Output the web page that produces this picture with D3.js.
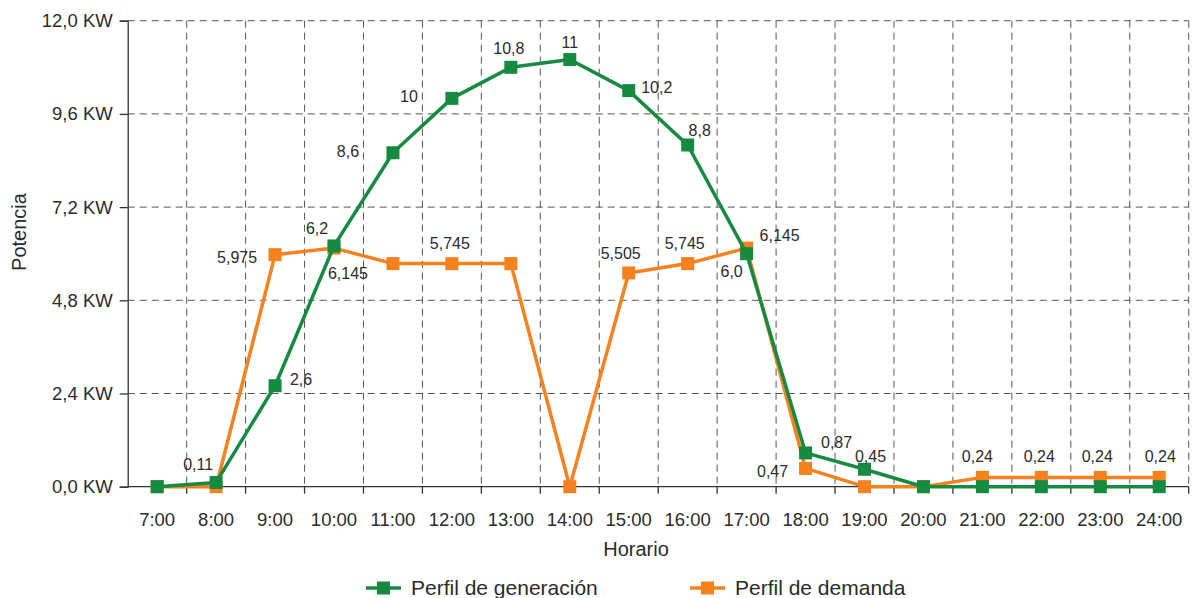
<!DOCTYPE html>
<html>
<head>
<meta charset="utf-8">
<script src="https://cdn.jsdelivr.net/npm/d3@7/dist/d3.min.js"></script>
<style>
  html, body { margin: 0; padding: 0; background: #fff; }
  svg { display: block; font-family: "Liberation Sans", Arial, Helvetica, sans-serif; }
</style>
</head>
<body>
<svg id="chart" width="1192" height="598"></svg>
<script>
// Hourly categories
const hours = ["7:00","8:00","9:00","10:00","11:00","12:00","13:00","14:00","15:00",
               "16:00","17:00","18:00","19:00","20:00","21:00","22:00","23:00","24:00"];

// Generation profile (kW)
const generacion = [0, 0.11, 2.6, 6.2, 8.6, 10, 10.8, 11, 10.2, 8.8, 6.0, 0.87, 0.45, 0, 0, 0, 0, 0];
const generacionLabels = [null, "0,11", "2,6", "6,2", "8,6", "10", "10,8", "11", "10,2", "8,8", "6,0", "0,87", "0,45",
                          null, null, null, null, null];

// Demand profile (kW)
const demanda = [0, 0, 5.975, 6.145, 5.745, 5.745, 5.745, 0, 5.505, 5.745, 6.145, 0.47, 0, 0, 0.24, 0.24, 0.24, 0.24];
const demandaLabels = [null, null, "5,975", "6,145", null, "5,745", null, null, "5,505", "5,745", "6,145", "0,47",
                       null, null, "0,24", "0,24", "0,24", "0,24"];

// Y axis ticks
const yTicks = [0, 2.4, 4.8, 7.2, 9.6, 12.0];
const yTickLabels = ["0,0 KW", "2,4 KW", "4,8 KW", "7,2 KW", "9,6 KW", "12,0 KW"];

const seriesNames = ["Perfil de generación", "Perfil de demanda"];

// Label nudges (text centre relative to the point), one per point
const genLabelOffset = [null, [-18,-18], [26,-6], [-17,-18], [-45,-1], [-43,-2], [-2,-19], [0,-17], [28,-3],
                        [12,-15], [-15,18], [31,-11], [6,-13], null, null, null, null, null];
const demLabelOffset = [null, null, [-38,3], [14,25], null, [-2,-20], null, null, [-8,-20], [-3,-20],
                        [33,-13], [-33,3], null, null, [-5,-21], [-2,-21], [-3,-21], [1,-21]];

const GREEN = "#168a41";
const ORANGE = "#f5821f";
const TEXT = "#2b2b2b";
const GRID = "#555";

const svg = d3.select("#chart");
const margin = { left: 127.7, right: 1192 - 1188.7, top: 20.7, bottom: 598 - 486.7 };
const plotW = 1192 - margin.left - margin.right;
const plotH = 598 - margin.top - margin.bottom;

const x = d3.scaleBand().domain(hours).range([margin.left, margin.left + plotW]).padding(0);
const y = d3.scaleLinear().domain([0, 12]).range([margin.top + plotH, margin.top]);
const cx = h => x(h) + x.bandwidth() / 2;

// Grid
const grid = svg.append("g");
grid.selectAll("line.hg").data(yTicks.filter(t => t > 0)).join("line")
  .attr("x1", margin.left).attr("x2", margin.left + plotW)
  .attr("y1", d => y(d)).attr("y2", d => y(d))
  .attr("stroke", GRID).attr("stroke-width", 1).attr("stroke-dasharray", "7,5");
const bounds = hours.map(h => x(h) + x.bandwidth());
grid.selectAll("line.vg").data(bounds).join("line")
  .attr("x1", d => d).attr("x2", d => d)
  .attr("y1", margin.top).attr("y2", margin.top + plotH)
  .attr("stroke", GRID).attr("stroke-width", 1).attr("stroke-dasharray", "7,5");

// Y axis
const yAxis = svg.append("g").attr("transform", `translate(${margin.left},0)`)
  .call(d3.axisLeft(y).tickValues(yTicks).tickSize(8).tickPadding(7)
        .tickFormat((d, i) => yTickLabels[i]));
yAxis.select(".domain").attr("stroke", "#333").attr("stroke-width", 1.3);
yAxis.selectAll(".tick line").attr("stroke", "#333").attr("stroke-width", 1.3);
yAxis.selectAll(".tick text").attr("fill", TEXT).style("font-size", "18.5px")
  .attr("font-family", "Liberation Sans, Arial, sans-serif");

// X axis: ticks at band boundaries, labels at band centres
const xAxisG = svg.append("g").attr("transform", `translate(0,${margin.top + plotH})`);
xAxisG.append("line").attr("x1", margin.left).attr("x2", margin.left + plotW)
  .attr("stroke", "#333").attr("stroke-width", 1.3);
xAxisG.selectAll("line.tk").data(bounds).join("line")
  .attr("x1", d => d).attr("x2", d => d).attr("y1", 0).attr("y2", 7)
  .attr("stroke", "#333").attr("stroke-width", 1.3);
xAxisG.selectAll("text").data(hours).join("text")
  .attr("x", d => cx(d)).attr("y", 39)
  .attr("text-anchor", "middle").attr("fill", TEXT).style("font-size", "18.5px")
  .text(d => d);

// Axis titles
svg.append("text").attr("x", 636).attr("y", 556).attr("text-anchor", "middle")
  .attr("fill", TEXT).style("font-size", "20px").text("Horario");
svg.append("text").attr("transform", "translate(26,232) rotate(-90)").attr("text-anchor", "middle")
  .attr("fill", TEXT).style("font-size", "20px").text("Potencia");

// Series
const line = d3.line().x((d, i) => cx(hours[i])).y(d => y(d));
const MS = 13;

function drawSeries(values, color) {
  const g = svg.append("g");
  g.append("path").datum(values).attr("d", line)
    .attr("fill", "none").attr("stroke", color).attr("stroke-width", 3.5).attr("stroke-linejoin", "round");
  g.selectAll("rect").data(values).join("rect")
    .attr("x", (d, i) => cx(hours[i]) - MS / 2).attr("y", d => y(d) - MS / 2)
    .attr("width", MS).attr("height", MS).attr("fill", color);
}
drawSeries(demanda, ORANGE);
drawSeries(generacion, GREEN);

function drawLabels(values, labels, offsets) {
  svg.append("g").selectAll("text")
    .data(values.map((v, i) => ({ v, i, t: labels[i], o: offsets[i] })).filter(d => d.t))
    .join("text")
    .attr("x", d => cx(hours[d.i]) + d.o[0])
    .attr("y", d => y(d.v) + d.o[1])
    .attr("dy", "0.35em")
    .attr("text-anchor", "middle").attr("fill", TEXT).style("font-size", "16px")
    .text(d => d.t);
}
drawLabels(generacion, generacionLabels, genLabelOffset);
drawLabels(demanda, demandaLabels, demLabelOffset);

// Legend
const legend = [
  { name: seriesNames[0], color: GREEN, x0: 366 },
  { name: seriesNames[1], color: ORANGE, x0: 690 }
];
const lg = svg.append("g");
legend.forEach(l => {
  lg.append("line").attr("x1", l.x0).attr("x2", l.x0 + 35).attr("y1", 588).attr("y2", 588)
    .attr("stroke", l.color).attr("stroke-width", 3.5);
  lg.append("rect").attr("x", l.x0 + 17.5 - MS / 2).attr("y", 588 - MS / 2)
    .attr("width", MS).attr("height", MS).attr("fill", l.color);
  lg.append("text").attr("x", l.x0 + 45).attr("y", 595).attr("fill", TEXT)
    .style("font-size", "21px").text(l.name);
});
</script>
</body>
</html>
